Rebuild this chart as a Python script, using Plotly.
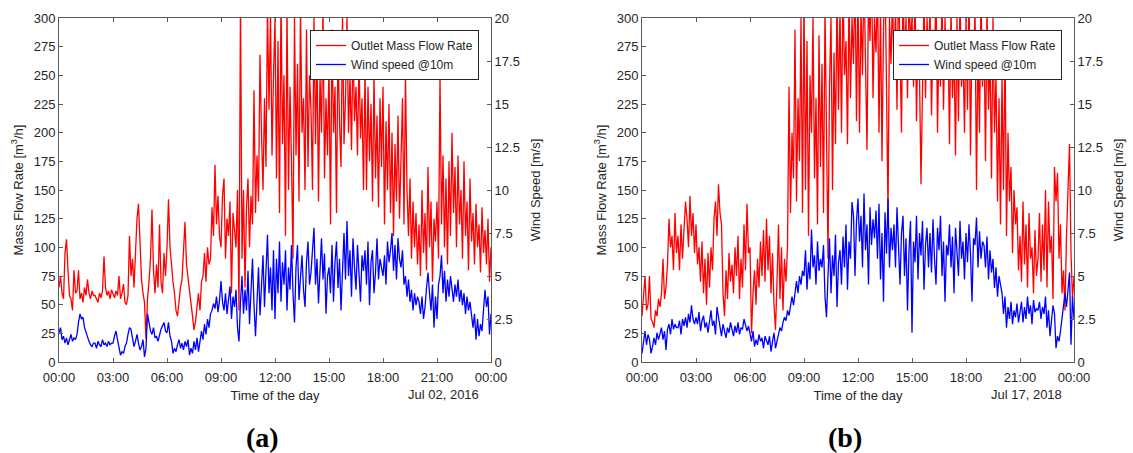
import plotly.graph_objects as go

# ---------------- data (5-minute samples) -------------
tick_vals = [0, 3, 6, 9, 12, 15, 18, 21, 24]
tick_text = ["00:00", "03:00", "06:00", "09:00", "12:00", "15:00", "18:00", "21:00", "00:00"]

flow_a = [
    65, 75, 60, 55, 95, 107, 80, 58, 55, 45, 80, 60,
    62, 80, 55, 60, 52, 65, 58, 72, 60, 55, 62, 58,
    58, 55, 52, 60, 56, 62, 92, 65, 58, 62, 55, 63,
    60, 56, 62, 58, 75, 55, 60, 68, 52, 50, 58, 110,
    75, 90, 65, 100, 125, 138, 95, 72, 60, 52, 20, 55,
    70, 90, 133, 80, 60, 85, 65, 120, 70, 60, 95, 75,
    100, 142, 100, 80, 70, 60, 45, 40, 55, 65, 72, 95,
    122, 85, 75, 60, 55, 40, 28, 35, 48, 60, 45, 70,
    75, 95, 70, 100, 85, 90, 135, 110, 172, 120, 145, 110,
    100, 145, 160, 90, 125, 110, 140, 60, 130, 115, 100, 150,
    45, 320, 90, 150, 65, 135, 160, 100, 145, 120, 237, 130,
    180, 140, 268, 200, 150, 230, 170, 310, 220, 305, 180, 250,
    300, 160, 280, 130, 320, 190, 250, 110, 310, 150, 240, 175,
    90, 300, 180, 260, 140, 310, 200, 230, 150, 290, 170, 250,
    220, 150, 300, 190, 270, 140, 250, 200, 310, 160, 230, 180,
    260, 120, 290, 200, 240, 130, 280, 210, 170, 300, 190, 230,
    300, 200, 250, 185, 280, 210, 240, 180, 265, 195, 230, 150,
    255, 150, 240, 175, 225, 140, 250, 160, 215, 135, 230, 170,
    240, 120, 210, 150, 225, 130, 200, 110, 190, 140, 215, 125,
    180, 230, 120, 250, 150, 110, 160, 90, 140, 100, 130, 85,
    120, 75, 150, 95, 130, 80, 170, 100, 140, 70, 125, 105,
    140, 90, 248, 120, 180, 100, 160, 85, 175, 110, 200, 130,
    170, 100, 180, 120, 150, 90, 175, 110, 140, 80, 160, 105,
    130, 85, 138, 100, 120, 78, 135, 95, 115, 85, 125, 70,
    100,
]

wind_a = [
    1.7, 2.0, 1.3, 1.5, 1.1, 1.4, 1.0, 1.3, 1.6, 1.2, 1.4, 1.3,
    1.6, 2.3, 2.8, 2.5, 2.6, 2.0, 1.7, 1.5, 1.2, 1.0, 0.9, 1.1,
    1.1, 0.8, 1.2, 1.0, 0.9, 1.3, 1.0, 1.1, 0.9, 1.2, 1.0, 1.1,
    1.1, 1.5, 1.8, 1.3, 0.7, 0.4, 0.6, 0.5, 0.9, 1.1, 1.6, 2.0,
    1.9, 1.4, 0.9, 1.2, 1.6, 1.1, 0.7, 0.9, 1.3, 0.3, 0.8, 2.8,
    2.3, 1.8, 1.6, 2.0, 1.4, 1.5, 1.2, 1.6, 1.9, 2.1, 2.3, 1.8,
    1.7, 2.3, 1.5, 1.2, 0.5, 0.8, 0.6, 1.0, 1.3, 0.8, 1.1, 0.7,
    1.2, 0.9, 1.3, 0.4, 0.8, 0.5, 1.2, 0.7, 1.4, 0.6, 1.1, 1.8,
    1.3, 2.2, 1.6, 2.5, 2.0, 2.8, 3.0, 3.4, 3.1, 3.8, 2.9, 3.6,
    4.7, 3.5, 3.0, 4.0, 2.8, 3.6, 4.4, 2.5, 3.8, 3.2, 4.2, 2.0,
    1.2, 3.5, 5.0, 2.8, 4.2, 3.0, 5.3, 2.2, 4.0, 6.0, 3.3, 1.5,
    3.5, 5.5, 2.7, 4.6, 6.2, 3.2, 5.0, 7.4, 4.0, 5.5, 3.0, 6.5,
    2.5, 6.0, 4.0, 7.0, 3.5, 5.8, 4.5, 6.5, 3.0, 5.5, 4.2, 6.8,
    4.0, 2.3, 5.5, 6.8, 3.6, 5.0, 6.2, 4.2, 3.2, 5.8, 7.0, 4.5,
    5.2, 6.5, 7.8, 4.5, 6.0, 3.4, 5.5, 7.2, 4.8, 6.3, 2.8, 5.0,
    5.5, 4.0, 6.8, 3.5, 5.8, 7.0, 4.3, 6.0, 3.0, 5.2, 7.5, 4.8,
    8.2, 5.0, 6.5, 3.8, 7.2, 5.5, 4.2, 6.8, 5.0, 3.5, 6.2, 5.3,
    6.5, 4.5, 7.0, 3.3, 5.8, 6.5, 4.0, 5.2, 7.2, 4.8, 6.0, 5.5,
    5.0, 6.2, 4.5, 7.0, 5.8, 6.5, 7.5, 5.3, 6.8, 4.8, 7.2, 6.0,
    5.5, 6.5, 4.5, 5.0, 3.8, 4.8, 3.5, 4.2, 3.0, 4.0, 3.3, 3.8,
    3.5, 2.8, 3.8, 2.5, 3.2, 4.3, 5.2, 4.0, 3.0, 4.5, 2.0, 3.8,
    2.5, 4.5, 5.0, 6.2, 4.0, 5.3, 3.5, 4.8, 3.8, 5.0, 4.2, 3.5,
    4.5, 3.8, 4.8, 3.5, 4.2, 3.3, 4.0, 2.8, 3.8, 3.0, 3.5, 2.5,
    2.0, 2.8, 1.3, 2.5, 1.5, 2.2, 1.8, 3.0, 4.2, 3.2, 3.8, 1.6,
    2.8,
]

flow_b = [
    40, 60, 75, 45, 50, 75, 38, 35, 30, 45, 40, 55,
    48, 60, 90, 55, 65, 85, 125, 100, 110, 80, 130, 95,
    110, 80, 120, 90, 115, 140, 125, 100, 145, 110, 130, 95,
    120, 85, 100, 70, 105, 60, 90, 50, 95, 65, 100, 80,
    125, 140, 110, 155, 130, 120, 60, 40, 80, 55, 95, 70,
    85, 60, 100, 75, 110, 55, 90, 65, 120, 80, 138, 95,
    100, 25, 60, 80, 50, 90, 65, 105, 75, 115, 70, 125,
    80, 110, 60, 95, 50, 28, 70, 120, 55, 100, 45, 90,
    70, 100, 240, 130, 200, 160, 290, 140, 230, 175, 300, 130,
    320, 150, 280, 110, 250, 200, 300, 160, 230, 120, 285, 170,
    260, 130, 310, 200, 90, 240, 300, 150, 270, 190, 320, 220,
    310, 200, 330, 250, 280, 190, 320, 230, 300, 260, 340, 210,
    330, 200, 310, 250, 340, 260, 185, 320, 280, 350, 230, 300,
    270, 330, 200, 310, 175, 290, 340, 240, 130, 300, 260, 320,
    250, 310, 220, 340, 270, 200, 330, 260, 300, 230, 320, 280,
    300, 240, 330, 210, 290, 250, 155, 280, 320, 230, 300, 260,
    310, 215, 290, 260, 330, 200, 280, 240, 320, 220, 300, 250,
    290, 190, 310, 230, 275, 180, 300, 210, 320, 240, 270, 200,
    300, 220, 330, 180, 290, 250, 310, 150, 280, 200, 320, 240,
    290, 175, 310, 220, 270, 160, 300, 200, 250, 140, 230, 120,
    250, 150, 280, 110, 200, 140, 170, 95, 150, 120, 135, 80,
    110, 70, 140, 85, 120, 65, 130, 90, 100, 60, 115, 75,
    90, 130, 70, 120, 80, 150, 65, 140, 95, 110, 55, 170,
    140, 165, 90, 120, 60, 80, 45, 110, 150, 190, 95, 55,
    75,
]

wind_b = [
    0.5, 1.2, 1.8, 1.0, 1.6, 1.3, 0.5, 0.9, 1.4, 1.0, 1.7, 1.3,
    1.6, 2.0, 1.3, 1.8, 0.7, 1.9, 2.2, 1.6, 2.5, 1.9, 2.2, 2.0,
    2.0, 2.4, 1.6, 2.5, 2.1, 2.6, 2.0, 2.8, 2.3, 3.3, 2.5, 2.2,
    2.6, 2.2, 2.9, 1.8, 2.4, 2.7, 2.0, 2.3, 1.7, 2.5, 3.0, 2.1,
    2.4, 1.6, 3.2, 2.6, 2.0, 1.5, 2.2, 1.8, 1.4, 2.0, 1.7, 2.3,
    1.8, 1.5, 2.1, 1.7, 2.3, 1.6, 2.0, 1.9, 2.5, 2.2, 1.8, 2.1,
    1.5, 1.2, 1.8, 0.9, 1.3, 1.0, 1.6, 1.2, 1.4, 0.8, 1.5, 1.3,
    1.0, 1.5, 0.6, 1.2, 1.7, 0.8, 1.3, 1.6, 2.0, 1.8, 2.3, 2.6,
    2.4, 3.0, 2.7, 3.4, 3.8, 3.3, 4.2, 4.7, 4.0, 5.0, 4.5, 5.3,
    5.0, 6.5, 4.2, 5.8, 4.8, 7.7, 5.5, 6.2, 4.5, 7.0, 5.3, 6.0,
    5.5, 6.8, 3.8, 2.6, 5.0, 7.2, 4.0, 6.2, 5.0, 7.4, 3.2, 5.8,
    6.5, 4.5, 7.3, 5.5, 8.0, 4.2, 7.0, 6.0, 9.3, 8.5, 5.0, 8.2,
    9.5, 7.0, 8.5, 5.5, 9.8, 6.5, 8.0, 4.5, 9.0, 6.8, 8.3, 7.2,
    8.8, 6.0, 9.2, 4.8, 7.5, 3.5, 8.7, 6.3, 9.5, 5.5, 7.8, 6.5,
    8.0, 5.5, 9.0, 6.8, 4.5, 7.5, 8.5, 5.0, 7.2, 3.0, 6.5, 8.2,
    1.7, 7.0, 5.8, 8.5, 4.8, 7.5, 6.2, 8.2, 4.2, 6.8, 7.8, 5.5,
    7.5, 5.2, 8.3, 6.0, 4.5, 7.8, 6.5, 8.5, 5.0, 7.0, 3.5, 6.8,
    6.2, 8.0, 5.5, 7.3, 4.0, 7.8, 6.5, 5.0, 8.2, 6.0, 7.0, 4.8,
    7.5, 5.8, 8.0, 6.3, 3.5, 7.2, 6.8, 8.4, 5.5, 7.6, 6.0, 7.0,
    6.8, 5.5, 7.3, 4.8, 6.5, 5.2, 6.0, 4.3, 5.5, 3.8, 5.0, 4.5,
    4.0, 2.8, 3.8, 2.0, 3.2, 2.5, 3.5, 2.2, 3.0, 2.6, 3.4, 2.3,
    2.8, 3.5, 2.3, 3.2, 2.5, 3.8, 2.8, 3.3, 2.2, 3.6, 2.9, 3.1,
    3.0, 3.5, 2.5, 3.2, 2.8, 3.8, 2.0, 3.0, 1.5, 2.5, 3.3, 2.8,
    0.8, 1.5, 1.2, 1.8, 2.5, 3.5, 4.0, 3.2, 4.5, 5.2, 1.0, 3.8,
    2.5,
]

# sample times in hours of the day (5-minute sampling)
hours = [i / 12 for i in range(len(flow_a))]

dates = ["Jul 02, 2016", "Jul 17, 2018"]
captions = ["(a)", "(b)"]
flow_name = "Outlet Mass Flow Rate"
wind_name = "Wind speed @10m"

# ---------------- figure -----------------------------------------------------------
W, H = 1133, 453
TXT = "#262626"
AXC = "#5a5a5a"
FONT = "Liberation Sans, Arial, sans-serif"

fig = go.Figure()
for k, (fl, wd) in enumerate([(flow_a, wind_a), (flow_b, wind_b)]):
    xa = "x" if k == 0 else "x2"
    ya = "y" if k == 0 else "y3"
    yb = "y2" if k == 0 else "y4"
    lg = "legend" if k == 0 else "legend2"
    fig.add_trace(go.Scatter(x=hours, y=fl, mode="lines", name=flow_name,
                             line=dict(color="#FF0000", width=1.3),
                             xaxis=xa, yaxis=ya, legend=lg))
    fig.add_trace(go.Scatter(x=hours, y=wd, mode="lines", name=wind_name,
                             line=dict(color="#0000FF", width=1.3),
                             xaxis=xa, yaxis=yb, legend=lg))

ydom = [1 - 362 / H, 1 - 18 / H]
xdoms = [[59 / W, 491 / W], [642 / W, 1074 / W]]

common_ax = dict(showgrid=False, zeroline=False, showline=True, linecolor=AXC,
                 linewidth=1, ticks="inside", ticklen=4, tickcolor=AXC,
                 tickfont=dict(family=FONT, size=13, color=TXT), automargin=False)

layout = dict(
    width=W, height=H, template="none",
    margin=dict(l=0, r=0, t=0, b=0),
    paper_bgcolor="white", plot_bgcolor="white",
    font=dict(family=FONT, size=13, color=TXT),
    showlegend=True,
)

for k in range(2):
    xn = "xaxis" if k == 0 else "xaxis2"
    yl = "yaxis" if k == 0 else "yaxis3"
    yr = "yaxis2" if k == 0 else "yaxis4"
    xref = "x" if k == 0 else "x2"
    ylref = "y" if k == 0 else "y3"
    layout[xn] = dict(common_ax, domain=xdoms[k], anchor=ylref, range=[0, 24],
                      tickvals=tick_vals, ticktext=tick_text, mirror="ticks",
                      ticklabelstandoff=3,
                      title=dict(text="Time of the day", standoff=7,
                                 font=dict(family=FONT, size=13, color=TXT)))
    layout[yl] = dict(common_ax, domain=ydom, anchor=xref, range=[0, 300],
                      tick0=0, dtick=25,
                      title=dict(text="Mass Flow Rate [m<sup>3</sup>/h]", standoff=7,
                                 font=dict(family=FONT, size=13, color=TXT)))
    layout[yr] = dict(common_ax, overlaying=ylref, side="right", anchor=xref,
                      range=[0, 20], tick0=0, dtick=2.5,
                      title=dict(text="Wind Speed [m/s]", standoff=11,
                                 font=dict(family=FONT, size=13, color=TXT)))

legend_common = dict(bgcolor="white", bordercolor=TXT, borderwidth=1,
                     font=dict(family=FONT, size=12, color=TXT),
                     xanchor="right", yanchor="top", traceorder="normal",
                     itemwidth=30, tracegroupgap=0)
layout["legend"] = dict(legend_common, x=479 / W, y=1 - 30 / H)
layout["legend2"] = dict(legend_common, x=1062 / W, y=1 - 30 / H)

annotations = []
for k in range(2):
    annotations.append(dict(text=dates[k], xref="paper", yref="paper",
                            x=(443 + 583 * k) / W, y=1 - 394 / H,
                            showarrow=False, xanchor="center", yanchor="middle",
                            font=dict(family=FONT, size=13, color=TXT)))
    annotations.append(dict(text="<b>" + captions[k] + "</b>", xref="paper", yref="paper",
                            x=(262 + 583 * k) / W, y=1 - 437 / H,
                            showarrow=False, xanchor="center", yanchor="middle",
                            font=dict(family="Liberation Serif, serif", size=28, color="black")))
layout["annotations"] = annotations

fig.update_layout(**layout)
fig.write_html("out.html")
